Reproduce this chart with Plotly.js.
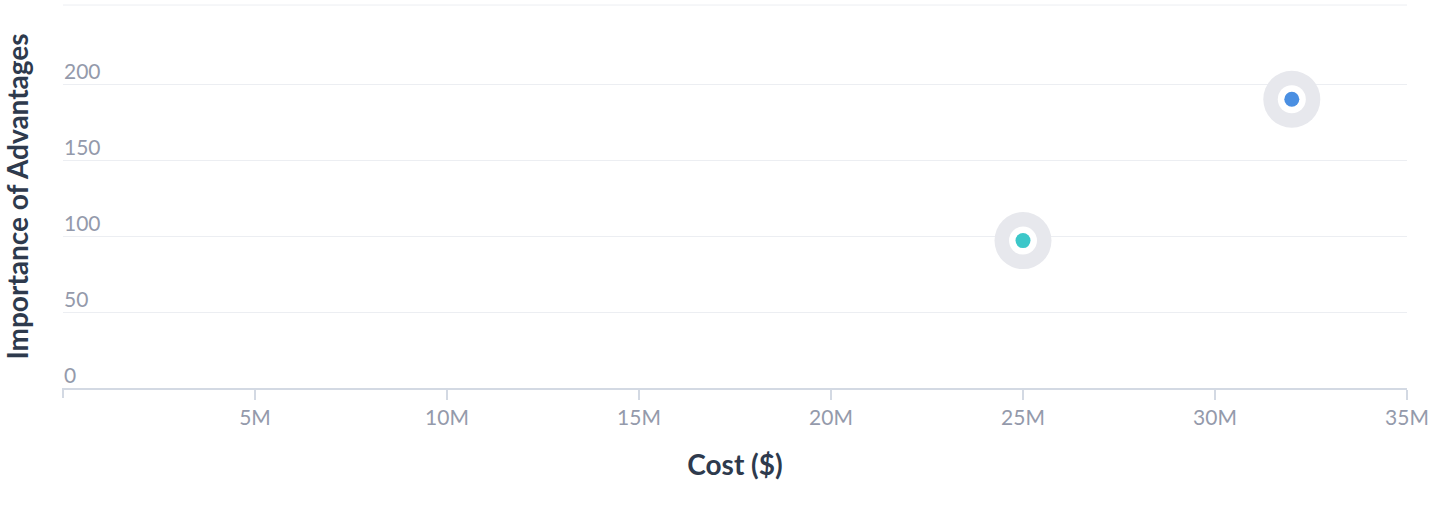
<!DOCTYPE html>
<html>
<head>
<meta charset="utf-8">
<script src="https://cdn.plot.ly/plotly-3.0.1.min.js"></script>
<style>html,body{margin:0;padding:0;background:#fff;}#chart{width:1447px;height:508px;}</style>
</head>
<body>
<div id="chart"></div>
<script>
const seriesNames = ["Series A", "Series B"];
const costs = [25000000, 32000000];
const importance = [97, 190];
const colors = ["#3cc7c9", "#4a8fe2"];
const xTickVals = [0, 5e6, 10e6, 15e6, 20e6, 25e6, 30e6, 35e6];
const xTickText = ["", "5M", "10M", "15M", "20M", "25M", "30M", "35M"];
const yTickVals = [0, 50, 100, 150, 200];

const traces = [];
costs.forEach((c, i) => {
  traces.push({x: [c], y: [importance[i]], type: "scatter", mode: "markers", hoverinfo: "skip", showlegend: false,
    marker: {size: 57, color: "#e7e8ed"}});
  traces.push({x: [c], y: [importance[i]], type: "scatter", mode: "markers", hoverinfo: "skip", showlegend: false,
    marker: {size: 28, color: "#ffffff"}});
  traces.push({x: [c], y: [importance[i]], type: "scatter", mode: "markers", name: seriesNames[i], showlegend: false,
    marker: {size: 15, color: colors[i]}});
});

const layout = {
  width: 1447, height: 508,
  margin: {l: 63, r: 40, t: 5, b: 120},
  paper_bgcolor: "#fff", plot_bgcolor: "#fff",
  font: {family: "Lato, 'Open Sans', sans-serif", color: "#949aab"},
  xaxis: {
    range: [0, 35e6], tickvals: xTickVals, ticktext: xTickText,
    showgrid: false, zeroline: false, showline: true, linecolor: "#d3d9e3", linewidth: 2,
    ticks: "outside", ticklen: 10, tickwidth: 2, tickcolor: "#d3d9e3",
    tickfont: {size: 21, color: "#949aab"},
    title: {text: "Cost ($)", font: {size: 28, color: "#2e3a4d", weight: 700}, standoff: 27}
  },
  yaxis: {
    range: [0, 252], tickvals: yTickVals,
    showgrid: true, gridcolor: "#eceef2", gridwidth: 1, zeroline: false, showline: false,
    ticks: "", ticklabelposition: "inside", ticklabelshift: -12, ticklabelstandoff: -2,
    tickfont: {size: 21, color: "#949aab"},
    title: {text: "Importance of Advantages", font: {size: 28, color: "#2e3a4d", weight: 700}, standoff: 30}
  },
  shapes: [
    {type: "line", xref: "paper", yref: "paper", x0: 0, x1: 1, y0: 1, y1: 1, line: {color: "#eceef2", width: 1}},
    {type: "line", xref: "paper", yref: "paper", ysizemode: "pixel", yanchor: 0, x0: 0, x1: 0, y0: 0, y1: -10, line: {color: "#d3d9e3", width: 2}}
  ]
};

Plotly.newPlot("chart", traces, layout, {displayModeBar: false, staticPlot: true});
</script>
</body>
</html>
